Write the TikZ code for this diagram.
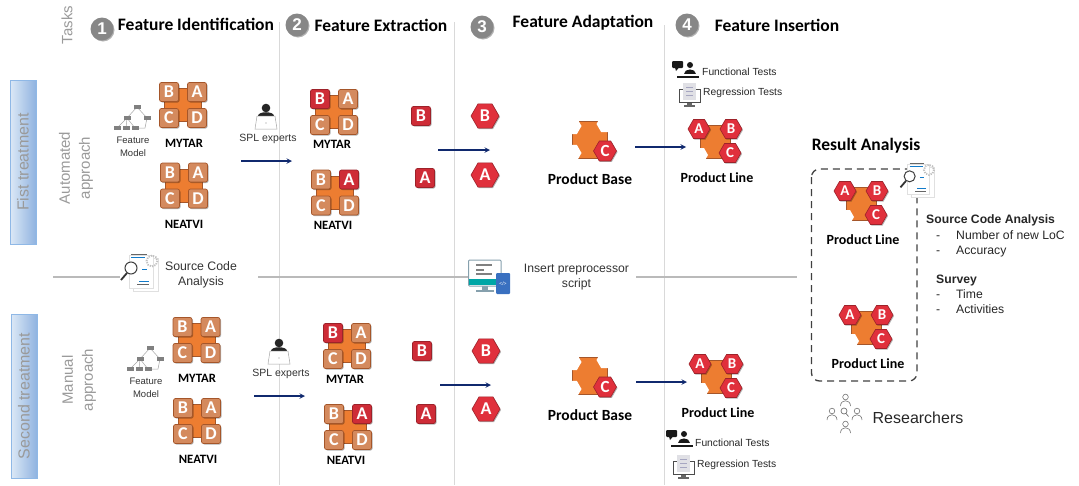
\documentclass[tikz,border=0pt]{standalone}
\usepackage{fontspec}
\setmainfont{Liberation Sans}
\newfontfamily\calibri{Carlito}
\usetikzlibrary{shapes.geometric,shadows}
\definecolor{plateorange}{HTML}{ED7D31}
\definecolor{plateedge}{HTML}{A5562A}
\definecolor{tileorange}{HTML}{D48A5E}
\definecolor{featred}{HTML}{E0303C}
\definecolor{flownavy}{HTML}{10296E}
\definecolor{labelgray}{HTML}{9A9A9A}
\definecolor{treatedge}{HTML}{8FB8E6}
\definecolor{treatleft}{HTML}{DCE8F6}
\definecolor{treatright}{HTML}{8FB3E0}
\newcommand{\fs}[2]{\fontsize{#1}{#2}\selectfont}
\tikzset{
	softshadow/.style={drop shadow={shadow xshift=1pt,shadow yshift=-1pt,opacity=.3,fill=black}},
	plate/.style={rectangle,draw=plateedge,fill=plateorange,line width=.7pt,inner sep=0pt},
	tile/.style={rectangle,rounded corners=2pt,draw=plateedge,fill=tileorange,line width=.7pt,text=white,
		minimum size=19pt,inner sep=0pt,font=\calibri\bfseries\fs{18}{18},softshadow},
	redtile/.style={tile,draw=featred!70!black,fill=featred!92!black},
	hexa/.style={regular polygon,regular polygon sides=6,draw=featred!70!black,fill=featred,
		line width=.6pt,text=white,minimum size=28pt,inner sep=0pt,font=\calibri\bfseries\fs{18}{18},softshadow},
	basehexa/.style={hexa,minimum size=23pt,font=\calibri\bfseries\fs{17}{17}},
	linehexa/.style={hexa,minimum size=22pt,font=\calibri\bfseries\fs{15}{15}},
	whitehexa/.style={regular polygon,regular polygon sides=6,fill=white,minimum size=19pt,inner sep=0pt},
	numdot/.style={circle,fill=black!47,text=white,minimum size=23pt,inner sep=0pt,font=\bfseries\fs{17}{17},softshadow},
	heading/.style={inner sep=0pt,font=\calibri\bfseries\fs{17.5}{18}},
	caption/.style={inner sep=0pt,font=\calibri\bfseries\fs{14}{14}},
	blockname/.style={inner sep=0pt,font=\calibri\bfseries\fs{12.7}{14}},
	smalltext/.style={inner sep=0pt,align=center,text=black!80,font=\fs{9.5}{12.5}},
	grouptext/.style={inner sep=0pt,rotate=90,align=center,text=labelgray,font=\fs{15}{20}},
	treatment/.style={rectangle,draw=treatedge,line width=.8pt,left color=treatleft,right color=treatright,
		minimum width=26pt,minimum height=164pt,inner sep=0pt},
	treatlabel/.style={inner sep=0pt,rotate=90,text=labelgray,font=\fs{16}{16}},
	sidetext/.style={inner sep=0pt,anchor=west,text height=8.5pt,text depth=2.5pt,text=black!85,font=\fs{12.2}{13}},
	testtext/.style={inner sep=0pt,anchor=west,text=black!85,font=\fs{10.3}{11}},
	flow/.style={->,>=stealth,flownavy,line width=1.4pt},
	taskline/.style={black!15,line width=.8pt},
	splitline/.style={black!27,line width=1.2pt}
}
% block of four features, #3 and #4 are the styles of B and A
\newcommand{\featureblock}[4]{
	\begin{scope}[shift={(#2)}]
	\node[plate,minimum width=37pt,minimum height=33pt] (#1) at (0,0) {};
	\node[#3] (#1B) at (-14,-13) {B};
	\node[#4] (#1A) at (14,-13) {A};
	\node[tile] (#1C) at (-14,13) {C};
	\node[tile] (#1D) at (14,13) {D};
	\end{scope}
}
\newcommand{\productbase}[2]{
	\begin{scope}[shift={(#2)}]
	\node[plate,minimum width=35pt,minimum height=37pt] (#1) at (0,0) {};
	\node[whitehexa] (#1W) at (-18,-14) {};
	\node[whitehexa] (#1X) at (16,-16) {};
	\node[whitehexa] (#1Y) at (-18,13) {};
	\node[basehexa] (#1C) at (15,11) {C};
	\node[caption,font=\calibri\bfseries\fs{15.5}{16}] (#1T) at (0,39) {Product Base};
	\end{scope}
}
\newcommand{\productline}[2]{
	\begin{scope}[shift={(#2)}]
	\node[plate,minimum width=30pt,minimum height=33pt] (#1) at (0,0) {};
	\node[whitehexa,minimum size=16pt] (#1W) at (-15,13) {};
	\node[linehexa] (#1A) at (-16,-13) {A};
	\node[linehexa] (#1B) at (16,-13) {B};
	\node[linehexa] (#1C) at (15,11) {C};
	\node[caption] (#1T) at (2,36) {Product Line};
	\end{scope}
}
\newcommand{\treeicon}[1]{
	\begin{scope}[shift={(#1)}]
	\draw[black!35,line width=.5pt] (0,-10)--(-10,1) (0,-10)--(10,1) (-10,1)--(-20,11) (-10,1)--(-11,11) (-10,1)--(-2,11) (10,1)--(8,11)--(-2,11);
	\foreach \tx/\ty in {0/-10,-10/1,10/1,-20/11,-11/11,-2/11}
		\fill[black!50] (\tx-3.5,\ty-2) rectangle (\tx+3.5,\ty+2);
	\end{scope}
}
\newcommand{\experticon}[1]{
	\begin{scope}[shift={(#1)}]
	\fill[black!85] (-8,-1) .. controls (-8,-6) and (8,-6) .. (8,-1) -- cycle;
	\fill[black!85] (0,-9) circle (4.3);
	\draw[black!35,fill=white,line width=.5pt] (-9,-1) -- (9,-1) -- (11,12) -- (-11,12) -- cycle;
	\fill[black!45] (0,6) circle (.7);
	\end{scope}
}
\newcommand{\functionalicon}[1]{
	\begin{scope}[shift={(#1)}]
	\fill[black!90,rounded corners=1pt] (-13,-9) rectangle (-2,-2);
	\fill[black!90] (-10,-2.5) -- (-6,-2.5) -- (-9,1) -- cycle;
	\fill[black!90] (5,-5) circle (3);
	\fill[black!90] (-1,4) .. controls (-1,-2) and (11,-2) .. (11,4) -- cycle;
	\draw[black!90,line width=1.2pt] (-8,7) -- (14,7);
	\end{scope}
}
\newcommand{\regressionicon}[1]{
	\begin{scope}[shift={(#1)}]
	\fill[black!60] (-2,7) rectangle (3,10);
	\fill[black!60] (-5,10) rectangle (6,11.5);
	\draw[black!70,fill=white,line width=.8pt] (-10,-6) rectangle (11,7);
	\fill[blue!15!black!12] (-6,-12) rectangle (7,5);
	\foreach \ly in {-8,-4,0}
		\draw[blue!30!black!35,line width=.5pt] (-3,\ly) -- (4,\ly);
	\end{scope}
}
\newcommand{\codeicon}[2]{
	\begin{scope}[shift={(#1)},scale=#2]
	\draw[black!12,fill=white,line width=.8pt] (-6,-14) rectangle (19,19);
	\draw[black!12,fill=white,line width=.8pt] (-10,-17) rectangle (14,16);
	\draw[cyan!60!blue,line width=.8pt] (-8,-15) -- (6,-15) (3,-3) -- (8,-3) (0,9) -- (10,9);
	\draw[black!60,line width=.6pt] (-8,-18) -- (8,-18) (-2,12) -- (10,12);
	\draw[black!25,line width=1.8pt,dash pattern=on 1.2pt off 1.2pt] (13,-11) circle (5.5);
	\draw[black!75,fill=white,line width=1pt] (-8,-4) circle (6);
	\draw[black!80,line width=1.8pt] (-12,1) -- (-18,8);
	\end{scope}
}
\begin{document}
\begin{tikzpicture}[x=1pt,y=-1pt]
	\useasboundingbox (0,0) rectangle (1079,485);
	%task columns
	\foreach \lx/\ly/\lname in {279/22/one,454/22/two,664.5/25/three}{
		\coordinate (top\lname) at (\lx,\ly);
		\coordinate (bot\lname) at (\lx,485);
		\draw[taskline] (top\lname) -- (bot\lname);
	}
	\coordinate (splita) at (53,277);
	\coordinate (splitb) at (120,277);
	\coordinate (splitc) at (258,277);
	\coordinate (splitd) at (470,277);
	\coordinate (splite) at (636,277);
	\coordinate (splitf) at (797,277);
	\draw[splitline] (splita) -- (splitb);
	\draw[splitline] (splitc) -- (splitd);
	\draw[splitline] (splite) -- (splitf);

	\node[grouptext] (tasks) at (67,25) {Tasks};
	\node[numdot] (numone) at (102,29) {1};
	\node[numdot] (numtwo) at (297,25) {2};
	\node[numdot] (numthree) at (482,27) {3};
	\node[numdot] (numfour) at (687,25) {4};
	\node[heading] (headone) at (196,24) {Feature Identification};
	\node[heading] (headtwo) at (381,25) {Feature Extraction};
	\node[heading] (headthree) at (583,23) {Feature Adaptation};
	\node[heading] (headfour) at (777,25) {Feature Insertion};

	\node[treatment] (firsttreat) at (23,162) {};
	\node[treatlabel] (firsttext) at (23,162) {Fist treatment};
	\node[treatment] (secondtreat) at (24,396) {};
	\node[treatlabel] (secondtext) at (24,396) {Second treatment};
	\node[grouptext] (autotext) at (76,168) {Automated\\approach};
	\node[grouptext] (mantext) at (79,380) {Manual\\approach};

	%first treatment
	\treeicon{137,117}
	\node[smalltext] (fmone) at (133,147) {Feature\\Model};
	\featureblock{mytarone}{183,105}{tile}{tile}
	\featureblock{neatone}{184,185.5}{tile}{tile}
	\node[blockname] (mytaronet) at (184,143) {MYTAR};
	\node[blockname] (neatonet) at (184,224) {NEATVI};
	\experticon{266,117}
	\node[smalltext,font=\fs{10.5}{12}] (splone) at (268,139) {SPL experts};
	\coordinate (arrowaa) at (241,161);
	\coordinate (arrowab) at (292,161);
	\draw[flow] (arrowaa) -- (arrowab);
	\featureblock{mytartwo}{334,112}{redtile}{tile}
	\featureblock{neattwo}{335,192.5}{tile}{redtile}
	\node[blockname] (mytartwot) at (332,144) {MYTAR};
	\node[blockname] (neattwot) at (333,225) {NEATVI};
	\node[redtile] (sqbone) at (421,116) {B};
	\node[redtile] (sqaone) at (425,178) {A};
	\coordinate (arrowba) at (438,150);
	\coordinate (arrowbb) at (490,150);
	\draw[flow] (arrowba) -- (arrowbb);
	\node[hexa] (hexbone) at (485,116) {B};
	\node[hexa] (hexaone) at (485,175) {A};
	\productbase{baseone}{590,140}
	\coordinate (arrowca) at (635,147);
	\coordinate (arrowcb) at (686,147);
	\draw[flow] (arrowca) -- (arrowcb);
	\productline{lineone}{715,142}
	\functionalicon{685,70}
	\node[testtext] (functone) at (702,72) {Functional Tests};
	\regressionicon{689,95}
	\node[testtext] (regrone) at (703,93) {Regression Tests};

	%line between the treatments
	\codeicon{139,272}{1}
	\node[smalltext,font=\fs{12.3}{15}] (codetext) at (201,274.5) {Source Code\\Analysis};
	%monitor with script
	\fill[black!60!cyan!60] (482,286) rectangle (488,291);
	\fill[black!60!cyan!60] (476,290) rectangle (494,292);
	\draw[black!60!cyan!60,fill=white,line width=1pt,rounded corners=1pt] (468.5,260) rectangle (501,286);
	\fill[teal!70!cyan] (469,279) rectangle (500.5,285);
	\draw[black!50,line width=1.2pt] (476,265) -- (492,265) (476,270) -- (484,270) (476,274) -- (492,274);
	\fill[cyan!40!blue!85,rounded corners=1pt] (496,273) rectangle (510,294);
	\node[inner sep=0pt,text=white,font=\fs{5}{5}] (scriptmark) at (503,284) {</>};
	\node[smalltext,font=\fs{12.2}{15}] (inserttext) at (576.5,277) {Insert preprocessor\\script};

	%second treatment
	\treeicon{150,358}
	\node[smalltext] (fmtwo) at (146,388) {Feature\\Model};
	\featureblock{mytarthree}{196.5,340}{tile}{tile}
	\featureblock{neatthree}{197,421}{tile}{tile}
	\node[blockname] (mytarthreet) at (197,378) {MYTAR};
	\node[blockname] (neatthreet) at (198,459) {NEATVI};
	\experticon{279,352}
	\node[smalltext,font=\fs{10.5}{12}] (spltwo) at (281,374) {SPL experts};
	\coordinate (arrowda) at (254,396);
	\coordinate (arrowdb) at (305,396);
	\draw[flow] (arrowda) -- (arrowdb);
	\featureblock{mytarfour}{347,346}{redtile}{tile}
	\featureblock{neatfour}{348,427}{tile}{redtile}
	\node[blockname] (mytarfourt) at (345,379) {MYTAR};
	\node[blockname] (neatfourt) at (346,460) {NEATVI};
	\node[redtile] (sqbtwo) at (422,351) {B};
	\node[redtile] (sqatwo) at (426,414) {A};
	\coordinate (arrowea) at (440,385);
	\coordinate (arroweb) at (491,385);
	\draw[flow] (arrowea) -- (arroweb);
	\node[hexa] (hexbtwo) at (486,351) {B};
	\node[hexa] (hexatwo) at (486,409) {A};
	\productbase{basetwo}{590,376}
	\coordinate (arrowfa) at (636,382);
	\coordinate (arrowfb) at (687,382);
	\draw[flow] (arrowfa) -- (arrowfb);
	\productline{linetwo}{716,377}
	\functionalicon{679,439}
	\node[testtext] (functtwo) at (695,443) {Functional Tests};
	\regressionicon{683,467}
	\node[testtext] (regrtwo) at (697,465) {Regression Tests};

	%result analysis
	\node[heading] (resulttext) at (866,146) {Result Analysis};
	\draw[black!75,line width=1.3pt,dash pattern=on 7pt off 5pt,rounded corners=8pt] (811.5,169) rectangle (917,381);
	\productline{resultone}{861,204}
	\productline{resulttwo}{866,328}
	\codeicon{917,180}{.92}
	\node[sidetext,font=\bfseries\fs{12.2}{13}] (sourcehead) at (926,220) {Source Code Analysis};
	\node[sidetext] (dasha) at (936,236) {-};
	\node[sidetext] (loctext) at (956,236) {Number of new LoC};
	\node[sidetext] (dashb) at (936,251) {-};
	\node[sidetext] (acctext) at (956,251) {Accuracy};
	\node[sidetext,font=\bfseries\fs{12.2}{13}] (surveyhead) at (936,280) {Survey};
	\node[sidetext] (dashc) at (936,295) {-};
	\node[sidetext] (timetext) at (956,295) {Time};
	\node[sidetext] (dashd) at (936,310) {-};
	\node[sidetext] (acttext) at (956,310) {Activities};
	%researchers
	\foreach \px/\py in {845.5/397,832/411,857/411,845.5/424}{
		\draw[black!55,line width=.6pt] (\px,\py) circle (2.8);
		\draw[black!55,line width=.6pt] (\px-5,\py+9) .. controls (\px-5,\py+2) and (\px+5,\py+2) .. (\px+5,\py+9);
	}
	\draw[black!55,line width=.7pt] (844,411) circle (3) (846,413.5) -- (848.5,416.5);
	\node[inner sep=0pt,text=black!85,font=\fs{16}{16}] (researchtext) at (918,418) {Researchers};
\end{tikzpicture}
\end{document}
